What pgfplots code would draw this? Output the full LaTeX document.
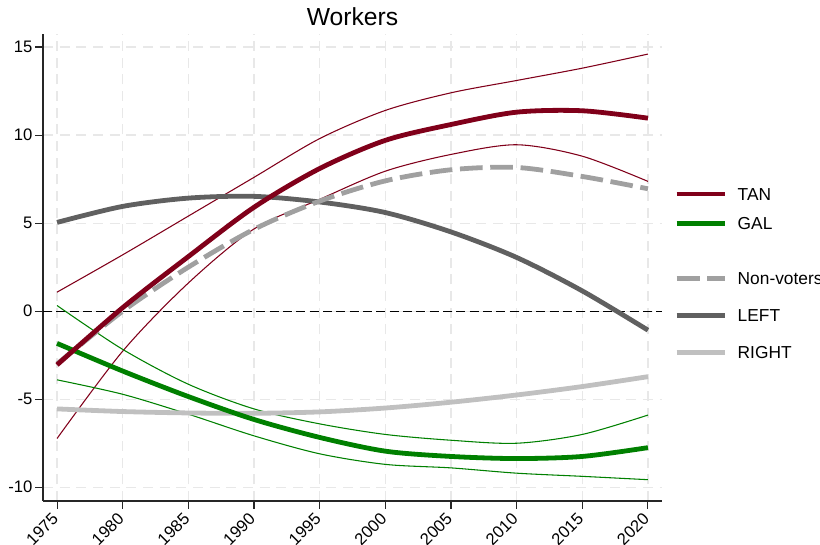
\documentclass[border=0pt]{standalone}
\usepackage{pgfplots}
\pgfplotsset{compat=1.18}
\usepackage{fontspec}
\setmainfont{Liberation Sans}

\definecolor{tanred}{RGB}{128,0,26}
\definecolor{galgreen}{RGB}{0,128,0}
\definecolor{nvgray}{RGB}{160,160,160}
\definecolor{leftgray}{RGB}{96,96,96}
\definecolor{rightgray}{RGB}{192,192,192}
\definecolor{gridgray}{RGB}{232,232,232}

\begin{document}
\begin{tikzpicture}
\path[use as bounding box] (-32.25pt,-33pt) rectangle (582.75pt,375.75pt);
\begin{axis}[
  at={(0,0)}, anchor=south west,
  scale only axis, width=464.25pt, height=350.25pt,
  xmin=1973.93, xmax=2021.07,
  ymin=-10.78, ymax=15.74,
  axis lines*=left,
  axis line style={draw=black!85, line width=0.9pt},
  xtick={1975,1980,...,2020},
  ytick={-10,-5,0,5,10,15},
  tick align=outside,
  major tick length=5.75pt,
  tick style={draw=black!85, line width=0.8pt},
  xticklabel style={xshift=-4.5pt, rotate=45, anchor=north east, inner sep=1.5pt,
    font=\fontsize{12.5}{15}\selectfont},
  yticklabel style={anchor=east, inner xsep=2pt,
    font=\fontsize{12.5}{15}\selectfont},
  /pgf/number format/assume math mode=true,
  x tick label style={/pgf/number format/1000 sep={}},
  grid=major,
  major grid style={draw=gridgray, line width=0.9pt, dash pattern=on 7.5pt off 5pt},
  title={Workers},
  title style={at={(0.5,1)}, anchor=base, yshift=0pt,
    font=\fontsize{18.5}{22}\selectfont},
  legend cell align=left,
  legend style={draw=none, fill=none, inner sep=0pt, outer sep=0pt,
    at={(1.0198,0.6888)}, anchor=north west,
    row sep=0pt, column sep=6pt,
    cells={inner ysep=0pt, inner xsep=0pt},
    font=\fontsize{13}{15.6}\selectfont},
  legend image code/.code={\draw[#1] (0pt,0pt) -- (36pt,0pt);},
  clip=false,
]

% reference line at zero
\addplot[forget plot, black, line width=1pt, dash pattern=on 6.75pt off 3.25pt]
  coordinates {(1973.93,0) (2021.07,0)};

% confidence bands (thin)
\addplot[forget plot, tanred, line width=0.8pt, smooth] coordinates {
  (1975,1.08) (1980,3.2) (1985,5.4) (1990,7.6) (1995,9.8) (2000,11.4)
  (2005,12.4) (2010,13.1) (2015,13.8) (2020,14.6)};
\addplot[forget plot, tanred, line width=0.8pt, smooth] coordinates {
  (1975,-7.23) (1980,-2.27) (1985,1.6) (1990,4.67) (1995,6.35) (2000,7.95)
  (2005,8.9) (2010,9.45) (2015,8.8) (2020,7.37)};
\addplot[forget plot, galgreen, line width=0.8pt, smooth] coordinates {
  (1975,0.32) (1980,-2.17) (1985,-4.15) (1990,-5.55) (1995,-6.4) (2000,-7.0)
  (2005,-7.33) (2010,-7.5) (2015,-7.0) (2020,-5.9)};
\addplot[forget plot, galgreen, line width=0.8pt, smooth] coordinates {
  (1975,-3.9) (1980,-4.72) (1985,-5.85) (1990,-7.08) (1995,-8.1) (2000,-8.7)
  (2005,-8.9) (2010,-9.2) (2015,-9.38) (2020,-9.57)};

% point estimates
\addplot[forget plot, leftgray, line width=3.6pt, smooth] coordinates {
  (1975,5.04) (1980,5.95) (1985,6.42) (1990,6.52) (1995,6.2) (2000,5.6)
  (2005,4.5) (2010,3.05) (2015,1.15) (2020,-1.08)};
\addplot[forget plot, rightgray, line width=3.6pt, smooth] coordinates {
  (1975,-5.55) (1980,-5.7) (1985,-5.78) (1990,-5.8) (1995,-5.72) (2000,-5.5)
  (2005,-5.17) (2010,-4.76) (2015,-4.28) (2020,-3.72)};
\addplot[forget plot, nvgray, line width=3.6pt, smooth, dash pattern=on 17pt off 5.75pt] coordinates {
  (1975,-3.0) (1980,0.0) (1985,2.5) (1990,4.65) (1995,6.25) (2000,7.4)
  (2005,8.03) (2010,8.16) (2015,7.65) (2020,6.95)};
\addplot[forget plot, galgreen, line width=3.6pt, smooth] coordinates {
  (1975,-1.83) (1980,-3.4) (1985,-4.85) (1990,-6.15) (1995,-7.17) (2000,-7.95)
  (2005,-8.25) (2010,-8.37) (2015,-8.25) (2020,-7.75)};
\addplot[forget plot, tanred, line width=3.6pt, smooth] coordinates {
  (1975,-3.05) (1980,0.2) (1985,3.1) (1990,5.9) (1995,8.1) (2000,9.7)
  (2005,10.6) (2010,11.3) (2015,11.38) (2020,10.96)};

% legend keys
\addlegendimage{tanred, line width=3.6pt}
\addlegendentry[text height=13.65pt, text depth=4.35pt]{TAN}
\addlegendimage{galgreen, line width=3.6pt}
\addlegendentry[text height=13.65pt, text depth=4.35pt]{GAL}
\addlegendimage{empty legend}
\addlegendentry[text height=8.2pt, text depth=4.2pt]{}
\addlegendimage{nvgray, line width=3.6pt, dash pattern=on 17.25pt off 5.8pt}
\addlegendentry[text height=16.5pt, text depth=7.2pt]{Non-voters}
\addlegendimage{leftgray, line width=3.6pt}
\addlegendentry[text height=16.5pt, text depth=7.2pt]{LEFT}
\addlegendimage{rightgray, line width=3.6pt}
\addlegendentry[text height=16.5pt, text depth=7.2pt]{RIGHT}
\end{axis}
\end{tikzpicture}
\end{document}
